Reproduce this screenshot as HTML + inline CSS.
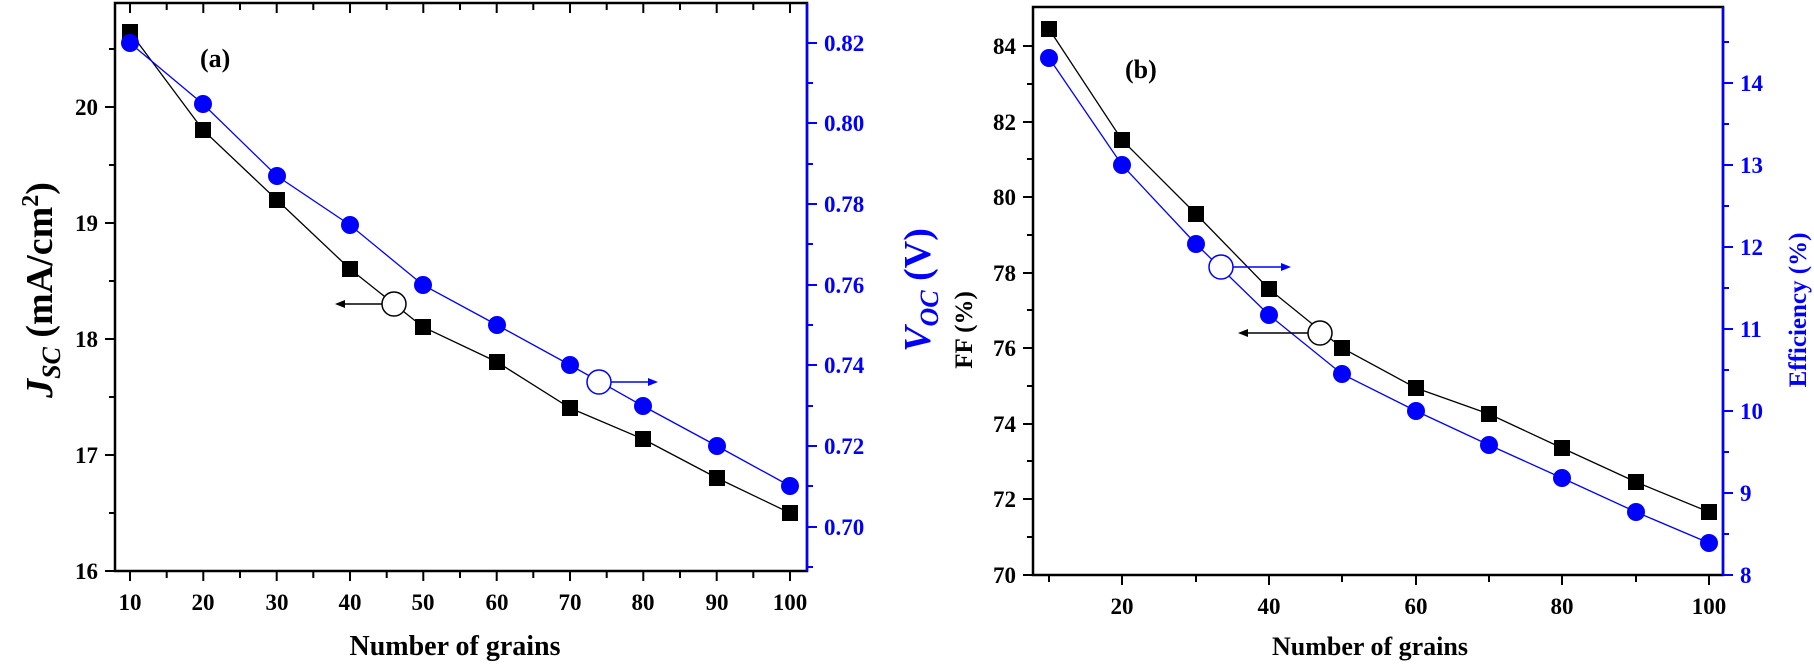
<!DOCTYPE html>
<html><head><style>body{margin:0;background:#fff}svg{display:block}text{font-family:"Liberation Serif",serif;font-weight:bold}</style></head>
<body>
<svg width="1814" height="664" viewBox="0 0 1814 664" xmlns="http://www.w3.org/2000/svg">
<g id="a">
<rect x="115" y="3" width="692" height="568" fill="none" stroke="#000" stroke-width="2.5"/>
<line x1="807" y1="3" x2="807" y2="571" stroke="#00f" stroke-width="2.5"/>
<g stroke="#000" stroke-width="2">
<path d="M130 571v10M166.7 571v7M203.3 571v10M240 571v7M276.7 571v10M313.3 571v7M350 571v10M386.7 571v7M423.3 571v10M460 571v7M496.7 571v10M533.3 571v7M570 571v10M606.7 571v7M643.3 571v10M680 571v7M716.7 571v10M753.3 571v7M790 571v10"/>
<path d="M130 3v10M166.7 3v7M203.3 3v10M240 3v7M276.7 3v10M313.3 3v7M350 3v10M386.7 3v7M423.3 3v10M460 3v7M496.7 3v10M533.3 3v7M570 3v10M606.7 3v7M643.3 3v10M680 3v7M716.7 3v10M753.3 3v7M790 3v10"/>
<path d="M115 107h-10M115 165h-6M115 223h-10M115 281h-6M115 339h-10M115 397h-6M115 455h-10M115 513h-6M115 571h-10M115 49h-6"/>
</g>
<g stroke="#00f" stroke-width="2"><path d="M807 43h10M807 83h6M807 123h10M807 164h6M807 204h10M807 244h6M807 285h10M807 325h6M807 365h10M807 406h6M807 446h10M807 486h6M807 527h10M807 567h6"/></g>
<g font-size="23" text-anchor="end"><text x="98" y="115">20</text><text x="98" y="231">19</text><text x="98" y="347">18</text><text x="98" y="463">17</text><text x="98" y="579">16</text></g>
<g font-size="23" fill="#00f"><text x="824" y="51">0.82</text><text x="824" y="131">0.80</text><text x="824" y="212">0.78</text><text x="824" y="293">0.76</text><text x="824" y="373">0.74</text><text x="824" y="454">0.72</text><text x="824" y="535">0.70</text></g>
<g font-size="23" text-anchor="middle"><text x="130" y="610">10</text><text x="203" y="610">20</text><text x="277" y="610">30</text><text x="350" y="610">40</text><text x="423" y="610">50</text><text x="497" y="610">60</text><text x="570" y="610">70</text><text x="643" y="610">80</text><text x="717" y="610">90</text><text x="790" y="610">100</text></g>
<text x="455" y="655" font-size="28" text-anchor="middle">Number of grains</text>
<text transform="translate(52,290) rotate(-90)" font-size="38" text-anchor="middle"><tspan font-style="italic">J</tspan><tspan font-style="italic" font-size="26" dy="8">SC</tspan><tspan dy="-8"> (mA/cm</tspan><tspan font-size="24" dy="-14">2</tspan><tspan dy="14">)</tspan></text>
<text transform="translate(930,290) rotate(-90)" font-size="38" fill="#00f" text-anchor="middle"><tspan font-style="italic">V</tspan><tspan font-style="italic" font-size="26" dy="8">OC</tspan><tspan dy="-8"> (V)</tspan></text>
<text x="200" y="67" font-size="26">(a)</text>
<polyline fill="none" stroke="#000" stroke-width="1.3" points="130,32 203,130 277,200 350,269 423,327 497,362 570,408 643,439 717,478 790,513"/>
<g fill="#000"><rect x="122" y="24" width="16" height="16"/><rect x="195" y="122" width="16" height="16"/><rect x="269" y="192" width="16" height="16"/><rect x="342" y="261" width="16" height="16"/><rect x="415" y="319" width="16" height="16"/><rect x="489" y="354" width="16" height="16"/><rect x="562" y="400" width="16" height="16"/><rect x="635" y="431" width="16" height="16"/><rect x="709" y="470" width="16" height="16"/><rect x="782" y="505" width="16" height="16"/></g>
<polyline fill="none" stroke="#00f" stroke-width="1.3" points="130,43 203,104 277,176 350,225 423,285 497,325 570,365 643,406 717,446 790,486"/>
<g fill="#00f"><circle cx="130" cy="43" r="9"/><circle cx="203" cy="104" r="9"/><circle cx="277" cy="176" r="9"/><circle cx="350" cy="225" r="9"/><circle cx="423" cy="285" r="9"/><circle cx="497" cy="325" r="9"/><circle cx="570" cy="365" r="9"/><circle cx="643" cy="406" r="9"/><circle cx="717" cy="446" r="9"/><circle cx="790" cy="486" r="9"/></g>
<line x1="383" y1="304" x2="342" y2="304" stroke="#000" stroke-width="1.5"/><path d="M335 304l10-4v8z"/>
<circle cx="394" cy="304" r="12" fill="#fff" stroke="#000" stroke-width="1.5"/>
<line x1="611" y1="382" x2="650" y2="382" stroke="#00f" stroke-width="1.5"/><path d="M658 382l-10-4v8z" fill="#00f"/>
<circle cx="599" cy="382" r="12" fill="#fff" stroke="#00f" stroke-width="1.5"/>
</g>
<g id="b">
<rect x="1033" y="7" width="690" height="568" fill="none" stroke="#000" stroke-width="2.5"/>
<line x1="1723" y1="7" x2="1723" y2="575" stroke="#00f" stroke-width="2.5"/>
<g stroke="#000" stroke-width="2">
<path d="M1049 575v7M1122 575v10M1196 575v7M1269 575v10M1342 575v7M1416 575v10M1489 575v7M1562 575v10M1636 575v7M1709 575v10"/>
<path d="M1033 46h-10M1033 84h-6M1033 122h-10M1033 159h-6M1033 197h-10M1033 235h-6M1033 273h-10M1033 310h-6M1033 348h-10M1033 386h-6M1033 424h-10M1033 461h-6M1033 499h-10M1033 537h-6M1033 575h-10"/>
</g>
<g stroke="#00f" stroke-width="2"><path d="M1723 83h10M1723 124h6M1723 165h10M1723 206h6M1723 247h10M1723 288h6M1723 329h10M1723 370h6M1723 411h10M1723 452h6M1723 493h10M1723 534h6M1723 575h10M1723 42h6"/></g>
<g font-size="23" text-anchor="end"><text x="1016" y="54">84</text><text x="1016" y="130">82</text><text x="1016" y="205">80</text><text x="1016" y="281">78</text><text x="1016" y="356">76</text><text x="1016" y="432">74</text><text x="1016" y="507">72</text><text x="1016" y="583">70</text></g>
<g font-size="23" fill="#00f"><text x="1740" y="91">14</text><text x="1740" y="173">13</text><text x="1740" y="255">12</text><text x="1740" y="337">11</text><text x="1740" y="419">10</text><text x="1740" y="501">9</text><text x="1740" y="583">8</text></g>
<g font-size="23" text-anchor="middle"><text x="1122" y="614">20</text><text x="1269" y="614">40</text><text x="1416" y="614">60</text><text x="1562" y="614">80</text><text x="1709" y="614">100</text></g>
<text x="1370" y="655" font-size="26" text-anchor="middle">Number of grains</text>
<text transform="translate(972,330) rotate(-90)" font-size="25" text-anchor="middle">FF (%)</text>
<text transform="translate(1806,310) rotate(-90)" font-size="25" fill="#00f" text-anchor="middle">Efficiency (%)</text>
<text x="1125" y="78" font-size="26">(b)</text>
<polyline fill="none" stroke="#000" stroke-width="1.3" points="1049,29 1122,140 1196,214 1269,289 1342,348 1416,388 1489,414 1562,448 1636,482 1709,512"/>
<g fill="#000"><rect x="1041" y="21" width="16" height="16"/><rect x="1114" y="132" width="16" height="16"/><rect x="1188" y="206" width="16" height="16"/><rect x="1261" y="281" width="16" height="16"/><rect x="1334" y="340" width="16" height="16"/><rect x="1408" y="380" width="16" height="16"/><rect x="1481" y="406" width="16" height="16"/><rect x="1554" y="440" width="16" height="16"/><rect x="1628" y="474" width="16" height="16"/><rect x="1701" y="504" width="16" height="16"/></g>
<polyline fill="none" stroke="#00f" stroke-width="1.3" points="1049,58 1122,165 1196,244 1269,315 1342,374 1416,411 1489,445 1562,478 1636,512 1709,543"/>
<g fill="#00f"><circle cx="1049" cy="58" r="9"/><circle cx="1122" cy="165" r="9"/><circle cx="1196" cy="244" r="9"/><circle cx="1269" cy="315" r="9"/><circle cx="1342" cy="374" r="9"/><circle cx="1416" cy="411" r="9"/><circle cx="1489" cy="445" r="9"/><circle cx="1562" cy="478" r="9"/><circle cx="1636" cy="512" r="9"/><circle cx="1709" cy="543" r="9"/></g>
<line x1="1233" y1="267" x2="1282" y2="267" stroke="#00f" stroke-width="1.5"/><path d="M1291 267l-10-4v8z" fill="#00f"/>
<circle cx="1221" cy="267" r="12" fill="#fff" stroke="#00f" stroke-width="1.5"/>
<line x1="1308" y1="333" x2="1245" y2="333" stroke="#000" stroke-width="1.5"/><path d="M1238 333l10-4v8z"/>
<circle cx="1320" cy="333" r="12" fill="#fff" stroke="#000" stroke-width="1.5"/>
</g>
</svg>
</body></html>
